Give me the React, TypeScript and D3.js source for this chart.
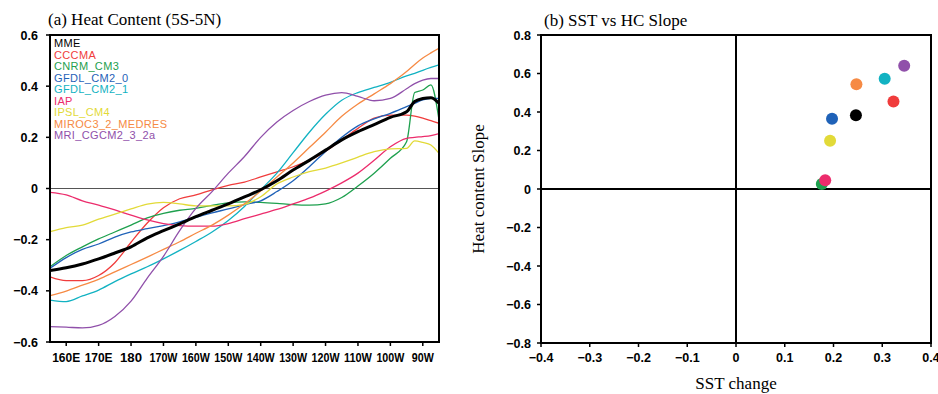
import React from 'react';
import * as d3 from 'd3';

// longitude grid (degrees east), 155E .. 85W
const lons = [155, 160, 165, 170, 175, 180, 185, 190, 195, 200, 205, 210, 215, 220, 225, 230, 235, 240, 245, 250, 255, 260, 265, 267.5, 270, 272.5, 275];

const mme = [-0.321, -0.31, -0.295, -0.275, -0.252, -0.228, -0.193, -0.165, -0.138, -0.11, -0.085, -0.06, -0.033, -0.005, 0.03, 0.072, 0.11, 0.15, 0.19, 0.222, 0.25, 0.278, 0.3, 0.34, 0.352, 0.355, 0.333];
const cccma = [-0.345, -0.36, -0.36, -0.34, -0.29, -0.21, -0.135, -0.075, -0.04, -0.025, -0.005, 0.012, 0.025, 0.045, 0.065, 0.085, 0.11, 0.145, 0.19, 0.235, 0.275, 0.287, 0.287, 0.283, 0.275, 0.265, 0.255];
const cnrm = [-0.306, -0.262, -0.228, -0.197, -0.17, -0.143, -0.115, -0.097, -0.085, -0.078, -0.066, -0.056, -0.052, -0.054, -0.058, -0.063, -0.065, -0.06, -0.035, 0.01, 0.06, 0.118, 0.183, 0.375, 0.385, 0.405, 0.268];
const gfdl0 = [-0.312, -0.27, -0.238, -0.217, -0.19, -0.17, -0.157, -0.145, -0.13, -0.113, -0.095, -0.08, -0.063, -0.048, -0.012, 0.03, 0.085, 0.145, 0.2, 0.245, 0.272, 0.294, 0.32, 0.333, 0.346, 0.352, 0.352];
const gfdl1 = [-0.436, -0.442, -0.42, -0.397, -0.364, -0.334, -0.306, -0.275, -0.242, -0.207, -0.17, -0.125, -0.07, -0.005, 0.06, 0.14, 0.22, 0.29, 0.345, 0.375, 0.395, 0.415, 0.44, 0.45, 0.462, 0.473, 0.483];
const iap = [-0.015, -0.025, -0.048, -0.065, -0.084, -0.104, -0.123, -0.137, -0.145, -0.147, -0.147, -0.137, -0.118, -0.1, -0.082, -0.06, -0.038, -0.01, 0.022, 0.06, 0.11, 0.163, 0.196, 0.2, 0.203, 0.207, 0.215];
const ipsl = [-0.169, -0.153, -0.143, -0.12, -0.1, -0.08, -0.061, -0.054, -0.06, -0.068, -0.068, -0.068, -0.062, -0.032, 0.018, 0.045, 0.066, 0.08, 0.1, 0.123, 0.144, 0.155, 0.157, 0.186, 0.18, 0.17, 0.137];
const miroc = [-0.419, -0.401, -0.378, -0.355, -0.326, -0.297, -0.268, -0.238, -0.208, -0.175, -0.143, -0.104, -0.06, -0.01, 0.045, 0.1, 0.16, 0.22, 0.282, 0.33, 0.37, 0.41, 0.457, 0.485, 0.51, 0.53, 0.548];
const mri = [-0.54, -0.542, -0.545, -0.535, -0.5, -0.44, -0.35, -0.265, -0.165, -0.078, -0.012, 0.06, 0.125, 0.2, 0.26, 0.305, 0.34, 0.365, 0.375, 0.36, 0.343, 0.352, 0.39, 0.41, 0.424, 0.43, 0.43];

const modelNames = ['MME', 'CCCMA', 'CNRM_CM3', 'GFDL_CM2_0', 'GFDL_CM2_1', 'IAP', 'IPSL_CM4', 'MIROC3_2_MEDRES', 'MRI_CGCM2_3_2a'];
const modelColors = ['#000000', '#f03c3c', '#1ea04e', '#1f62b8', '#12b2c2', '#ec2c6c', '#e2da38', '#f68a44', '#9050aa'];
const modelSeries = [mme, cccma, cnrm, gfdl0, gfdl1, iap, ipsl, miroc, mri];

// scatter: SST change vs heat content slope, same model order
const sstChange = [0.246, 0.323, 0.176, 0.197, 0.305, 0.183, 0.193, 0.247, 0.345];
const hcSlope = [0.383, 0.454, 0.026, 0.365, 0.573, 0.045, 0.251, 0.544, 0.64];

const lonTicks = [160, 170, 180, 190, 200, 210, 220, 230, 240, 250, 260, 270];
const lonLabels = ['160E', '170E', '180', '170W', '160W', '150W', '140W', '130W', '120W', '110W', '100W', '90W'];
const hcTicks = [-0.6, -0.4, -0.2, 0, 0.2, 0.4, 0.6];
const sstTicks = [-0.4, -0.3, -0.2, -0.1, 0, 0.1, 0.2, 0.3, 0.4];
const slopeTicks = [-0.8, -0.6, -0.4, -0.2, 0, 0.2, 0.4, 0.6, 0.8];

const tickFont = { fontFamily: 'Liberation Sans, Arial, sans-serif', fontWeight: 700, fontSize: 12.5 };
const titleFont = { fontFamily: 'Liberation Serif, Times New Roman, serif', fontSize: 17 };

const fmt = (v: number) => (v === 0 ? '0' : (v < 0 ? '\u2212' : '') + Math.abs(v).toString());

const App = () => {
  const W = 938;
  const H = 394;

  // panel (a)
  const xa = d3.scaleLinear().domain([155, 275]).range([50, 439]);
  const ya = d3.scaleLinear().domain([-0.6, 0.6]).range([342, 35]);
  const line = d3
    .line<number>()
    .x((d, i) => xa(lons[i]))
    .y(d => ya(d))
    .curve(d3.curveMonotoneX);

  // panel (b)
  const xb = d3.scaleLinear().domain([-0.4, 0.4]).range([541, 931]);
  const yb = d3.scaleLinear().domain([-0.8, 0.8]).range([343, 35]);

  return (
    <svg width={W} height={H} style={{ position: 'absolute', left: 0, top: 0, background: '#fff' }}>
      <defs>
        <clipPath id="clipA">
          <rect x={xa(155)} y={ya(0.6)} width={xa(275) - xa(155)} height={ya(-0.6) - ya(0.6)} />
        </clipPath>
      </defs>

      {/* ---------- (a) Heat Content ---------- */}
      <text x={48} y={25} {...titleFont}>(a) Heat Content (5S-5N)</text>
      <line x1={xa(155)} x2={xa(275)} y1={ya(0)} y2={ya(0)} stroke="#555" strokeWidth={1} />
      <g clipPath="url(#clipA)">
        {modelSeries.map((s, i) => (i === 0 ? null : (
          <path key={modelNames[i]} d={line(s) || ''} fill="none" stroke={modelColors[i]} strokeWidth={1.3} />
        )))}
        <path d={line(mme) || ''} fill="none" stroke="#000" strokeWidth={3} strokeLinejoin="round" />
      </g>
      <rect x={xa(155)} y={ya(0.6)} width={xa(275) - xa(155)} height={ya(-0.6) - ya(0.6)} fill="none" stroke="#000" strokeWidth={2} />
      {hcTicks.map(t => (
        <g key={'ya' + t}>
          <line x1={xa(155) - 4} x2={xa(155)} y1={ya(t)} y2={ya(t)} stroke="#000" strokeWidth={1.5} />
          <text x={38} y={ya(t) + 4.5} textAnchor="end" {...tickFont}>{fmt(t)}</text>
        </g>
      ))}
      {lonTicks.map((t, i) => (
        <g key={'xa' + t}>
          <line x1={xa(t)} x2={xa(t)} y1={ya(-0.6)} y2={ya(-0.6) + 4} stroke="#000" strokeWidth={1.5} />
          <text x={xa(t)} y={362} textAnchor="middle" {...tickFont}
            textLength={lonLabels[i].length === 4 ? 28 : 22} lengthAdjust="spacingAndGlyphs">{lonLabels[i]}</text>
        </g>
      ))}
      {modelNames.map((n, i) => (
        <text key={'lg' + n} x={54} y={47 + i * 11.55} fill={modelColors[i]}
          fontFamily="Liberation Sans, Arial, sans-serif" fontSize={11} letterSpacing={0.35}>{n}</text>
      ))}

      {/* ---------- (b) SST vs HC Slope ---------- */}
      <text x={544} y={26} {...titleFont}>(b) SST vs HC Slope</text>
      <rect x={xb(-0.4)} y={yb(0.8)} width={xb(0.4) - xb(-0.4)} height={yb(-0.8) - yb(0.8)} fill="none" stroke="#000" strokeWidth={2} />
      <line x1={xb(0)} x2={xb(0)} y1={yb(0.8)} y2={yb(-0.8)} stroke="#000" strokeWidth={2} />
      <line x1={xb(-0.4)} x2={xb(0.4)} y1={yb(0)} y2={yb(0)} stroke="#000" strokeWidth={2} />
      {slopeTicks.map(t => (
        <g key={'yb' + t}>
          <line x1={xb(-0.4) - 4} x2={xb(-0.4)} y1={yb(t)} y2={yb(t)} stroke="#000" strokeWidth={1.5} />
          <text x={531} y={yb(t) + 4.5} textAnchor="end" {...tickFont}>{fmt(t)}</text>
        </g>
      ))}
      {sstTicks.map(t => (
        <g key={'xb' + t}>
          <line x1={xb(t)} x2={xb(t)} y1={yb(-0.8)} y2={yb(-0.8) + 4} stroke="#000" strokeWidth={1.5} />
          <text x={xb(t)} y={362} textAnchor="middle" {...tickFont}>{fmt(t)}</text>
        </g>
      ))}
      {sstChange.map((v, i) => (
        <circle key={'pt' + i} cx={xb(v)} cy={yb(hcSlope[i])} r={6} fill={modelColors[i]} />
      ))}
      <text x={736} y={389} textAnchor="middle" {...titleFont}>SST change</text>
      <text transform={`translate(484,${yb(0)}) rotate(-90)`} textAnchor="middle" {...titleFont}>Heat content Slope</text>
    </svg>
  );
};

export default App;
